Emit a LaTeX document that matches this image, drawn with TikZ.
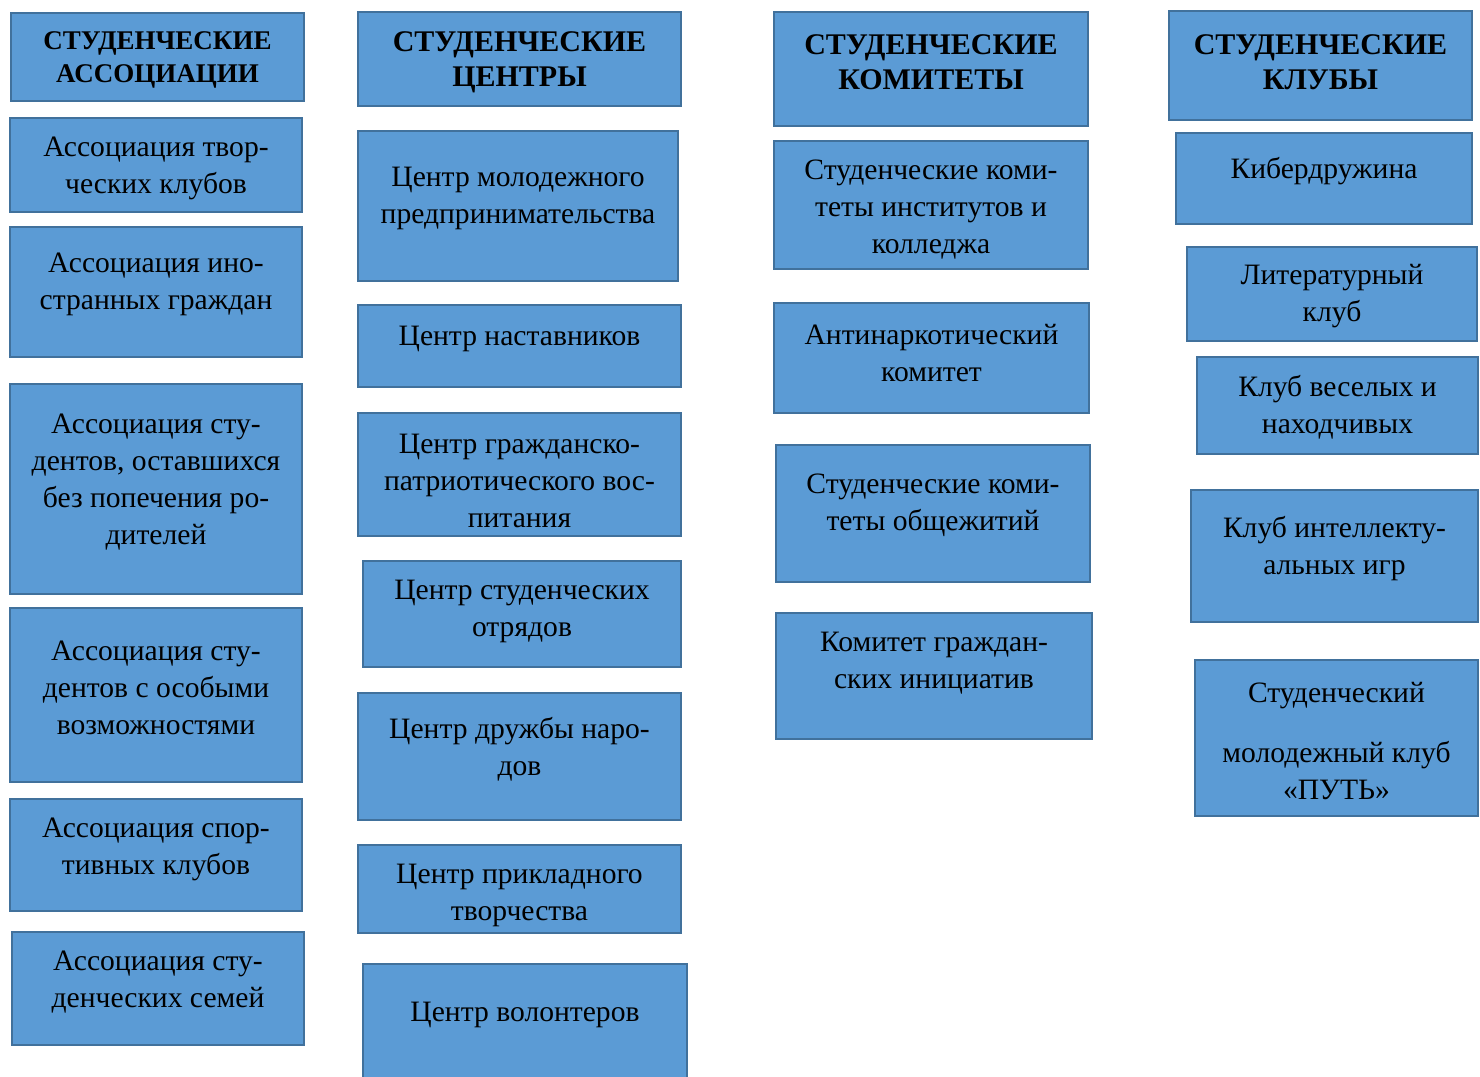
\documentclass[tikz,border=0pt]{standalone}
\usepackage{fontspec}
\setmainfont{Liberation Serif}
\usetikzlibrary{fit}
\definecolor{boxfill}{HTML}{5B9BD5}
\definecolor{boxline}{HTML}{41719C}
\tikzset{
  boxst/.style={draw=boxline, fill=boxfill, line width=1.2pt, inner sep=0pt, rectangle},
  txt/.style={align=center, inner sep=0pt, yshift=-1.5pt, font=\fontsize{14.8pt}{18.5pt}\selectfont},
  hdA/.style={align=center, inner sep=0pt, yshift=-1.5pt, font=\fontsize{13.5pt}{16.5pt}\selectfont\bfseries},
  hdB/.style={align=center, inner sep=0pt, yshift=-2pt, font=\fontsize{15pt}{17.5pt}\selectfont\bfseries}
}
\newcommand\bxt[8][txt]{%
  \node[boxst, fit={(#3,#4) (#5,#6)}] (#2) {};
  \node[#1] (#2t) at (#2.center |- 0,#7) {#8};
}
\begin{document}
\begin{tikzpicture}[x=0.5pt,y=-0.5pt]
\useasboundingbox (0,0) rectangle (1480,1077);
\clip (0,0) rectangle (1480,1077);
% column 1
\bxt[hdA]{h1}{11}{13}{304}{101}{56.5}{СТУДЕНЧЕСКИЕ\\АССОЦИАЦИИ}
\bxt{a1}{10}{118}{302}{212}{165}{Ассоциация твор-\\ческих клубов}
\bxt{a2}{10}{227}{302}{357}{281.5}{Ассоциация ино-\\странных граждан}
\bxt{a3}{10}{384}{302}{594}{479}{Ассоциация сту-\\дентов, оставшихся\\без попечения ро-\\дителей}
\bxt{a4}{10}{608}{302}{782}{685}{Ассоциация сту-\\дентов с особыми\\возможностями}
\bxt{a5}{10}{799}{302}{911}{846}{Ассоциация спор-\\тивных клубов}
\bxt{a6}{12}{932}{304}{1045}{979}{Ассоциация сту-\\денческих семей}
% column 2
\bxt[hdB]{h2}{358}{12}{681}{106}{58.5}{СТУДЕНЧЕСКИЕ\\ЦЕНТРЫ}
\bxt{c1}{358}{131}{678}{281}{195.5}{Центр молодежного\\предпринимательства}
\bxt{c2}{358}{305}{681}{387}{336}{Центр наставников}
\bxt{c3}{358}{413}{681}{536}{478}{Центр гражданско-\\патриотического вос-\\питания}
\bxt{c4}{363}{561}{681}{667}{608.5}{Центр студенческих\\отрядов}
\bxt{c5}{358}{693}{681}{820}{746.5}{Центр дружбы наро-\\дов}
\bxt{c6}{358}{845}{681}{933}{892.5}{Центр прикладного\\творчества}
\bxt{c7}{363}{964}{687}{1090}{1012}{Центр волонтеров}
% column 3
\bxt[hdB]{h3}{774}{12}{1088}{126}{58.5}{СТУДЕНЧЕСКИЕ\\КОМИТЕТЫ}
\bxt{k1}{774}{141}{1088}{269}{206.5}{Студенческие коми-\\теты институтов и\\колледжа}
\bxt{k2}{774}{303}{1089}{413}{350}{Антинаркотический\\комитет}
\bxt{k3}{776}{445}{1090}{582}{502}{Студенческие коми-\\теты общежитий}
\bxt{k4}{776}{613}{1092}{739}{660}{Комитет граждан-\\ских инициатив}
% column 4
\bxt[hdB]{h4}{1169}{11}{1472}{120}{58}{СТУДЕНЧЕСКИЕ\\КЛУБЫ}
\bxt{b1}{1176}{133}{1472}{224}{168}{Кибердружина}
\bxt{b2}{1187}{247}{1477}{341}{293}{Литературный\\клуб}
\bxt{b3}{1197}{357}{1478}{454}{404}{Клуб веселых и\\находчивых}
\bxt{b4}{1191}{490}{1478}{622}{545.5}{Клуб интеллекту-\\альных игр}
\bxt{b5}{1195}{660}{1478}{816}{738.5}{Студенческий\\[11.5pt]молодежный клуб\\«ПУТЬ»}
\end{tikzpicture}
\end{document}
